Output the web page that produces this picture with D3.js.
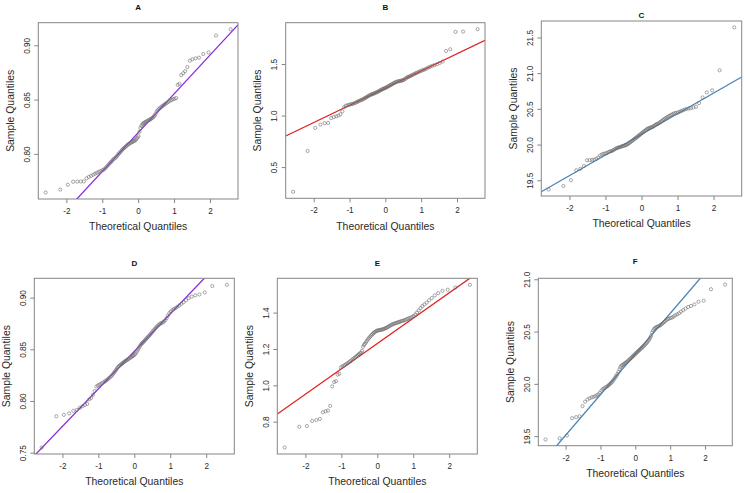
<!DOCTYPE html>
<html><head><meta charset="utf-8">
<script src="https://cdn.jsdelivr.net/npm/d3@7"></script>
<style>body{margin:0;background:#fff}svg{display:block}</style>
</head><body>
<svg id="c" width="745" height="493"></svg>
<script>
// Theoretical normal quantiles for n = 100 (shared by every panel)
const theoreticalQuantiles = [
-2.5758,-2.1701,-1.9600,-1.8119,-1.6954,-1.5982,-1.5141,-1.4395,-1.3722,-1.3106,
-1.2536,-1.2004,-1.1503,-1.1031,-1.0581,-1.0152,-0.9741,-0.9346,-0.8965,-0.8596,
-0.8239,-0.7892,-0.7554,-0.7225,-0.6903,-0.6588,-0.6280,-0.5978,-0.5681,-0.5388,
-0.5101,-0.4817,-0.4538,-0.4261,-0.3989,-0.3719,-0.3451,-0.3186,-0.2924,-0.2663,
-0.2404,-0.2147,-0.1891,-0.1637,-0.1383,-0.1130,-0.0878,-0.0627,-0.0376,-0.0125,
0.0125,0.0376,0.0627,0.0878,0.1130,0.1383,0.1637,0.1891,0.2147,0.2404,
0.2663,0.2924,0.3186,0.3451,0.3719,0.3989,0.4261,0.4538,0.4817,0.5101,
0.5388,0.5681,0.5978,0.6280,0.6588,0.6903,0.7225,0.7554,0.7892,0.8239,
0.8596,0.8965,0.9346,0.9741,1.0152,1.0581,1.1031,1.1503,1.2004,1.2536,
1.3106,1.3722,1.4395,1.5141,1.5982,1.6954,1.8119,1.9600,2.1701,2.5758];

const sampleA = [
0.7645,0.7672,0.7716,0.7744,0.7745,0.7746,0.7747,0.7775,0.7788,0.7798,
0.7808,0.7818,0.7826,0.7834,0.7840,0.7846,0.7852,0.7862,0.7875,0.7888,
0.7902,0.7915,0.7926,0.7938,0.7950,0.7958,0.7966,0.7976,0.7990,0.8002,
0.8012,0.8022,0.8034,0.8044,0.8052,0.8060,0.8068,0.8076,0.8084,0.8090,
0.8096,0.8101,0.8106,0.8110,0.8114,0.8118,0.8124,0.8132,0.8142,0.8152,
0.8165,0.8205,0.8238,0.8258,0.8272,0.8280,0.8286,0.8291,0.8296,0.8300,
0.8305,0.8310,0.8315,0.8320,0.8326,0.8332,0.8340,0.8350,0.8365,0.8385,
0.8400,0.8410,0.8420,0.8428,0.8436,0.8444,0.8452,0.8460,0.8468,0.8476,
0.8484,0.8492,0.8498,0.8503,0.8508,0.8514,0.8635,0.8645,0.8725,0.8742,
0.8762,0.8800,0.8858,0.8872,0.8880,0.8886,0.8920,0.8935,0.9090,0.9148];

const sampleB = [
0.260,0.656,0.880,0.912,0.926,0.928,0.975,0.985,0.992,1.000,
1.012,1.040,1.082,1.095,1.100,1.104,1.108,1.112,1.115,1.120,
1.126,1.132,1.138,1.143,1.148,1.152,1.157,1.163,1.170,1.176,
1.182,1.188,1.194,1.199,1.203,1.207,1.210,1.214,1.218,1.222,
1.226,1.230,1.235,1.240,1.245,1.250,1.255,1.259,1.262,1.266,
1.270,1.275,1.280,1.285,1.290,1.295,1.300,1.305,1.310,1.315,
1.320,1.325,1.328,1.331,1.333,1.335,1.337,1.339,1.342,1.346,
1.352,1.360,1.368,1.374,1.378,1.382,1.388,1.394,1.400,1.406,
1.412,1.418,1.424,1.430,1.436,1.442,1.448,1.456,1.466,1.474,
1.482,1.490,1.498,1.510,1.524,1.627,1.643,1.812,1.815,1.838];

const sampleC = [
19.370,19.420,19.500,19.640,19.660,19.700,19.780,19.780,19.785,19.790,
19.800,19.820,19.845,19.860,19.870,19.875,19.880,19.890,19.900,19.905,
19.910,19.920,19.930,19.940,19.950,19.955,19.960,19.965,19.970,19.975,
19.980,19.985,19.990,19.995,20.000,20.010,20.020,20.030,20.040,20.050,
20.060,20.070,20.080,20.090,20.100,20.110,20.120,20.130,20.140,20.150,
20.160,20.170,20.180,20.190,20.200,20.210,20.220,20.225,20.230,20.235,
20.240,20.245,20.250,20.260,20.270,20.280,20.285,20.290,20.300,20.310,
20.320,20.330,20.345,20.355,20.365,20.375,20.385,20.395,20.405,20.415,
20.425,20.435,20.440,20.445,20.450,20.460,20.470,20.480,20.490,20.500,
20.505,20.510,20.520,20.530,20.580,20.660,20.730,20.760,21.040,21.640];

const sampleD = [
0.7550,0.7852,0.7866,0.7880,0.7905,0.7914,0.7934,0.7950,0.7962,0.7972,
0.8015,0.8030,0.8060,0.8095,0.8140,0.8150,0.8158,0.8165,0.8172,0.8180,
0.8188,0.8196,0.8205,0.8215,0.8225,0.8235,0.8245,0.8258,0.8272,0.8285,
0.8300,0.8315,0.8328,0.8338,0.8345,0.8352,0.8360,0.8368,0.8375,0.8382,
0.8388,0.8394,0.8400,0.8406,0.8412,0.8418,0.8424,0.8430,0.8436,0.8442,
0.8450,0.8460,0.8475,0.8490,0.8505,0.8520,0.8535,0.8548,0.8558,0.8566,
0.8576,0.8586,0.8596,0.8606,0.8616,0.8626,0.8636,0.8648,0.8660,0.8672,
0.8684,0.8696,0.8708,0.8720,0.8730,0.8740,0.8748,0.8754,0.8760,0.8768,
0.8780,0.8800,0.8825,0.8850,0.8865,0.8880,0.8890,0.8900,0.8912,0.8925,
0.8940,0.8955,0.8975,0.8995,0.9010,0.9022,0.9030,0.9050,0.9112,0.9124];

const sampleE = [
0.658,0.772,0.776,0.804,0.809,0.815,0.852,0.857,0.861,0.887,
0.994,1.018,1.023,1.059,1.064,1.098,1.104,1.108,1.112,1.118,
1.122,1.127,1.132,1.137,1.142,1.147,1.152,1.157,1.162,1.167,
1.172,1.176,1.180,1.190,1.212,1.222,1.228,1.236,1.244,1.252,
1.258,1.264,1.270,1.276,1.281,1.286,1.290,1.294,1.297,1.300,
1.302,1.303,1.304,1.305,1.306,1.307,1.309,1.311,1.313,1.315,
1.318,1.321,1.324,1.327,1.330,1.333,1.336,1.338,1.340,1.342,
1.344,1.346,1.348,1.350,1.352,1.354,1.356,1.358,1.361,1.364,
1.367,1.370,1.373,1.377,1.382,1.390,1.400,1.412,1.425,1.436,
1.445,1.455,1.468,1.480,1.495,1.507,1.520,1.526,1.538,1.553];

const sampleF = [
19.468,19.480,19.506,19.672,19.682,19.690,19.787,19.830,19.850,19.862,
19.870,19.876,19.882,19.890,19.900,19.915,19.935,19.950,19.958,19.965,
19.972,19.980,19.990,20.000,20.010,20.022,20.035,20.050,20.065,20.080,
20.095,20.115,20.140,20.160,20.172,20.180,20.186,20.192,20.198,20.204,
20.210,20.218,20.226,20.234,20.242,20.250,20.258,20.266,20.274,20.282,
20.290,20.298,20.306,20.314,20.322,20.330,20.338,20.346,20.354,20.362,
20.370,20.380,20.390,20.400,20.412,20.425,20.440,20.460,20.490,20.510,
20.525,20.535,20.540,20.545,20.550,20.556,20.562,20.570,20.580,20.590,
20.600,20.610,20.620,20.625,20.630,20.635,20.645,20.655,20.665,20.675,
20.690,20.705,20.720,20.735,20.745,20.760,20.785,20.795,20.905,20.950];

const panelTitles = ["A", "B", "C", "D", "E", "F"];
const xTickLabels = ["-2", "-1", "0", "1", "2"];
const yTickLabelsA = ["0.80", "0.85", "0.90"];
const yTickLabelsB = ["0.5", "1.0", "1.5"];
const yTickLabelsC = ["19.5", "20.0", "20.5", "21.0", "21.5"];
const yTickLabelsD = ["0.75", "0.80", "0.85", "0.90"];
const yTickLabelsE = ["0.8", "1.0", "1.2", "1.4"];
const yTickLabelsF = ["19.5", "20.0", "20.5", "21.0"];
// reference lines (qqline): intercept, slope
const lineIntercepts = [0.8195, 1.266, 20.143, 0.848, 1.230, 20.285];
const lineSlopes = [0.0357, 0.167, 0.289, 0.0363, 0.1394, 0.3885];

const samples = [sampleA, sampleB, sampleC, sampleD, sampleE, sampleF];
const yTickSets = [yTickLabelsA, yTickLabelsB, yTickLabelsC, yTickLabelsD, yTickLabelsE, yTickLabelsF];

// layout (plot frames in pixels)
const layout = [
  {x0: 38.3, x1: 238, y0: 22.7, y1: 199, ty: 7},
  {x0: 285.7, x1: 485, y0: 22.7, y1: 198.3, ty: 7},
  {x0: 541.3, x1: 741.7, y0: 21, y1: 196, ty: 15},
  {x0: 34.3, x1: 234.3, y0: 278.3, y1: 454, ty: 263.3},
  {x0: 277.3, x1: 477.3, y0: 278.3, y1: 454, ty: 263.3},
  {x0: 538.3, x1: 732.3, y0: 278.3, y1: 445.7, ty: 261}
];
const lineColors = ["#8a2be2", "#e02020", "#4682b4", "#8a2be2", "#e02020", "#4682b4"];
const FONT = "'Liberation Sans', Arial, sans-serif";
const frameColor = "#858585";
const textColor = "#2a2a2a";

const svg = d3.select("#c");
svg.append("rect").attr("width", 745).attr("height", 493).attr("fill", "#fff");

function padded(ext) {
  const r = ext[1] - ext[0];
  return [ext[0] - 0.04 * r, ext[1] + 0.04 * r];
}

samples.forEach((vals, i) => {
  const L = layout[i];
  const x = d3.scaleLinear().domain(padded(d3.extent(theoreticalQuantiles))).range([L.x0, L.x1]);
  const y = d3.scaleLinear().domain(padded(d3.extent(vals))).range([L.y1, L.y0]);
  const g = svg.append("g");

  const clipId = "clip" + i;
  svg.append("clipPath").attr("id", clipId).append("rect")
    .attr("x", L.x0).attr("y", L.y0).attr("width", L.x1 - L.x0).attr("height", L.y1 - L.y0);

  // reference line
  const xd = x.domain();
  g.append("line")
    .attr("clip-path", `url(#${clipId})`)
    .attr("x1", x(xd[0])).attr("y1", y(lineIntercepts[i] + lineSlopes[i] * xd[0]))
    .attr("x2", x(xd[1])).attr("y2", y(lineIntercepts[i] + lineSlopes[i] * xd[1]))
    .attr("stroke", lineColors[i]).attr("stroke-width", 1.3);

  // points
  g.append("g").selectAll("circle")
    .data(vals.map((v, k) => [theoreticalQuantiles[k], v]))
    .join("circle")
    .attr("cx", d => x(d[0])).attr("cy", d => y(d[1])).attr("r", 1.6)
    .attr("fill", "none").attr("stroke", "#6e6e6e").attr("stroke-width", 0.6);

  // frame
  g.append("rect").attr("x", L.x0).attr("y", L.y0)
    .attr("width", L.x1 - L.x0).attr("height", L.y1 - L.y0)
    .attr("fill", "none").attr("stroke", frameColor).attr("stroke-width", 1);

  // x axis
  const xa = g.append("g").attr("transform", `translate(0,${L.y1})`)
    .call(d3.axisBottom(x).tickValues(xTickLabels.map(Number)).tickSize(4).tickPadding(2)
      .tickFormat((d, k) => xTickLabels[k]));
  xa.select(".domain").remove();
  xa.selectAll(".tick line").attr("stroke", frameColor);
  xa.selectAll(".tick text").attr("y", 12.3).attr("dy", "0.35em")
    .attr("font-family", FONT).attr("font-size", 8.2).attr("fill", textColor);

  // y axis
  const yt = yTickSets[i];
  const ya = g.append("g").attr("transform", `translate(${L.x0},0)`)
    .call(d3.axisLeft(y).tickValues(yt.map(Number)).tickSize(4).tickFormat((d, k) => yt[k]));
  ya.select(".domain").remove();
  ya.selectAll(".tick line").attr("stroke", frameColor);
  ya.selectAll(".tick text")
    .attr("x", 0).attr("dy", "0.35em").attr("text-anchor", "middle")
    .attr("transform", "translate(-11.5,0) rotate(-90)")
    .attr("font-family", FONT).attr("font-size", 8.2).attr("fill", textColor);

  // axis titles
  g.append("text").attr("x", (L.x0 + L.x1) / 2).attr("y", L.y1 + 27.8).attr("dy", "0.35em")
    .attr("text-anchor", "middle").attr("font-family", FONT).attr("font-size", 10.4)
    .attr("fill", textColor).text("Theoretical Quantiles");
  g.append("text")
    .attr("transform", `translate(${L.x0 - 28.3},${(L.y0 + L.y1) / 2}) rotate(-90)`)
    .attr("dy", "0.35em").attr("text-anchor", "middle").attr("font-family", FONT)
    .attr("font-size", 10.4).attr("fill", textColor).text("Sample Quantiles");

  // panel title
  g.append("text").attr("x", (L.x0 + L.x1) / 2).attr("y", L.ty).attr("dy", "0.35em")
    .attr("text-anchor", "middle").attr("font-family", FONT).attr("font-weight", "bold")
    .attr("font-size", 8).attr("fill", "#111").text(panelTitles[i]);
});
</script>
</body></html>
